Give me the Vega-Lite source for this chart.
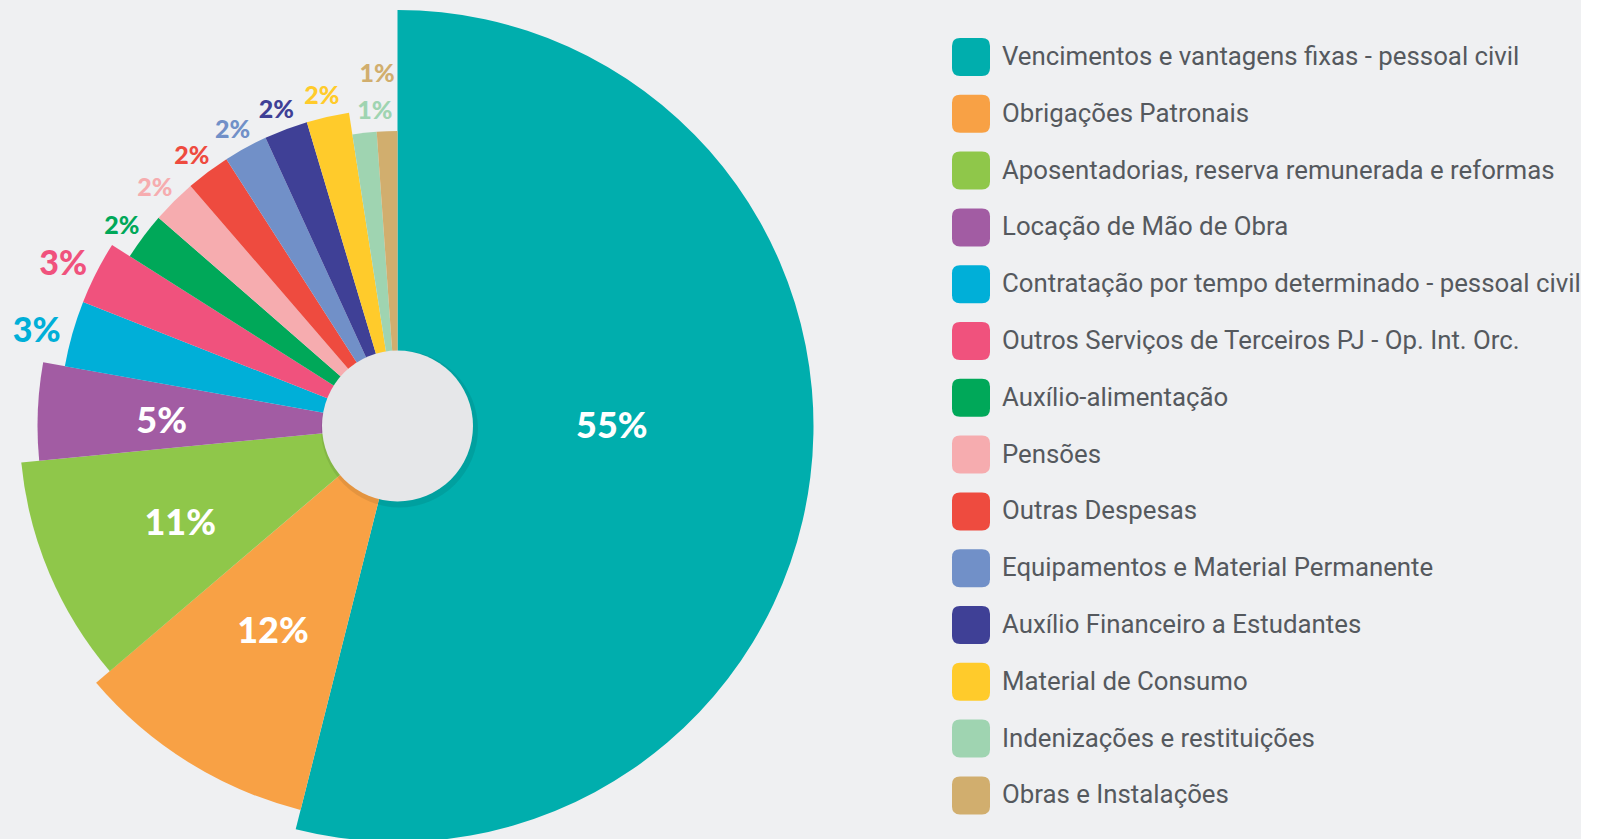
{
  "$schema": "https://vega.github.io/schema/vega-lite/v6.json",
  "width": 795,
  "height": 852,
  "padding": 0,
  "background": "#eff0f2",
  "config": {"view": {"stroke": null}},
  "data": {"values": [
    {"categoria": "Vencimentos e vantagens fixas - pessoal civil", "valor": 53.93, "pct": 0.55},
    {"categoria": "Obrigações Patronais", "valor": 9.83, "pct": 0.12},
    {"categoria": "Aposentadorias, reserva remunerada e reformas", "valor": 9.69, "pct": 0.11},
    {"categoria": "Locação de Mão de Obra", "valor": 4.375, "pct": 0.05},
    {"categoria": "Contratação por tempo determinado - pessoal civil", "valor": 3.15, "pct": 0.03},
    {"categoria": "Outros Serviços de Terceiros PJ - Op. Int. Orc.", "valor": 3.01, "pct": 0.03},
    {"categoria": "Auxílio-alimentação", "valor": 2.42, "pct": 0.02},
    {"categoria": "Pensões", "valor": 2.26, "pct": 0.02},
    {"categoria": "Outras Despesas", "valor": 2.25, "pct": 0.02},
    {"categoria": "Equipamentos e Material Permanente", "valor": 2.24, "pct": 0.02},
    {"categoria": "Auxílio Financeiro a Estudantes", "valor": 2.22, "pct": 0.02},
    {"categoria": "Material de Consumo", "valor": 2.17, "pct": 0.02},
    {"categoria": "Indenizações e restituições", "valor": 1.32, "pct": 0.01},
    {"categoria": "Obras e Instalações", "valor": 1.125, "pct": 0.01}
  ]},
  "layer": [
    {
      "transform": [{"stack": "valor", "groupby": [], "sort": [{"field": "valor", "order": "descending"}], "as": ["ini", "fim"]}],
      "mark": {"type": "arc", "stroke": null},
      "encoding": {
        "theta": {"field": "ini", "type": "quantitative"},
        "theta2": {"field": "fim"},
        "radius": {"field": "pct", "type": "quantitative", "scale": {"type": "linear", "zero": false, "domain": [0.01, 0.02, 0.03, 0.05, 0.11, 0.12, 0.55], "range": [295, 317, 338, 360, 378, 396, 416]}},
        "radius2": {"value": 0},
        "color": {
          "field": "categoria",
          "type": "nominal",
          "scale": {
            "domain": ["Vencimentos e vantagens fixas - pessoal civil", "Obrigações Patronais", "Aposentadorias, reserva remunerada e reformas", "Locação de Mão de Obra", "Contratação por tempo determinado - pessoal civil", "Outros Serviços de Terceiros PJ - Op. Int. Orc.", "Auxílio-alimentação", "Pensões", "Outras Despesas", "Equipamentos e Material Permanente", "Auxílio Financeiro a Estudantes", "Material de Consumo", "Indenizações e restituições", "Obras e Instalações"],
            "range": ["#00aead", "#f8a145", "#8fc74a", "#a25ca3", "#00afd8", "#f0527d", "#00a859", "#f6acaf", "#ee4b3f", "#7190c8", "#3f4096", "#ffcb2b", "#9fd4b1", "#d1ae6e"]
          },
          "legend": {
            "orient": "none",
            "legendX": 952,
            "legendY": 38,
            "title": null,
            "padding": 0,
            "symbolType": "M-1,-0.58 Q-1,-1 -0.58,-1 L0.58,-1 Q1,-1 1,-0.58 L1,0.58 Q1,1 0.58,1 L-0.58,1 Q-1,1 -1,0.58 Z",
            "symbolSize": 1444,
            "symbolStrokeWidth": 0,
            "labelFont": "Roboto",
            "labelFontSize": 25.8,
            "labelColor": "#55595e",
            "labelOffset": 12,
            "labelLimit": 800,
            "rowPadding": 18.8
          }
        }
      }
    },
    {
      "data": {"values": [{}]},
      "mark": {"type": "arc", "theta": 0, "theta2": 6.2832, "radius": 78.5, "fill": "#000000", "opacity": 0.08, "xOffset": 2, "yOffset": 3},
      "encoding": {}
    },
    {
      "data": {"values": [{}]},
      "mark": {"type": "arc", "theta": 0, "theta2": 6.2832, "radius": 75.5, "fill": "#e6e7e9"},
      "encoding": {}
    },
    {
      "mark": {"type": "text", "radius": 216, "dy": -26, "fill": "#ffffff", "font": "Lato", "fontWeight": 900, "fontSize": 36, "align": "center", "baseline": "middle"},
      "encoding": {
        "theta": {"field": "valor", "type": "quantitative", "stack": true},
        "order": {"field": "valor", "type": "quantitative", "sort": "descending"},
        "text": {"condition": {"test": "datum.pct > 0.5", "field": "pct", "type": "quantitative", "format": ".0%"}, "value": ""}
      }
    },
    {
      "mark": {"type": "text", "radius": 236, "dy": 6, "fill": "#ffffff", "font": "Lato", "fontWeight": 900, "fontSize": 36, "align": "center", "baseline": "middle"},
      "encoding": {
        "theta": {"field": "valor", "type": "quantitative", "stack": true},
        "order": {"field": "valor", "type": "quantitative", "sort": "descending"},
        "text": {"condition": {"test": "datum.pct > 0.04 && datum.pct < 0.5", "field": "pct", "type": "quantitative", "format": ".0%"}, "value": ""}
      }
    },
    {
      "mark": {"type": "text", "radius": 375, "dy": 9, "font": "Lato", "fontWeight": 900, "fontSize": 34, "align": "center", "baseline": "middle"},
      "encoding": {
        "theta": {"field": "valor", "type": "quantitative", "stack": true},
        "order": {"field": "valor", "type": "quantitative", "sort": "descending"},
        "color": {"field": "categoria", "type": "nominal"},
        "text": {"condition": {"test": "datum.pct == 0.03", "field": "pct", "type": "quantitative", "format": ".0%"}, "value": ""}
      }
    },
    {
      "mark": {"type": "text", "radius": 344, "dy": 6, "font": "Lato", "fontWeight": 900, "fontSize": 25, "align": "center", "baseline": "middle"},
      "encoding": {
        "theta": {"field": "valor", "type": "quantitative", "stack": true},
        "order": {"field": "valor", "type": "quantitative", "sort": "descending"},
        "color": {"field": "categoria", "type": "nominal"},
        "text": {"condition": {"test": "datum.pct == 0.02", "field": "pct", "type": "quantitative", "format": ".0%"}, "value": ""}
      }
    },
    {
      "mark": {"type": "text", "radius": 318, "dx": 13, "dy": 1, "font": "Lato", "fontWeight": 900, "fontSize": 25, "align": "center", "baseline": "middle"},
      "encoding": {
        "theta": {"field": "valor", "type": "quantitative", "stack": true},
        "order": {"field": "valor", "type": "quantitative", "sort": "descending"},
        "color": {"field": "categoria", "type": "nominal"},
        "text": {"condition": {"test": "datum.categoria == 'Indenizações e restituições'", "field": "pct", "type": "quantitative", "format": ".0%"}, "value": ""}
      }
    },
    {
      "mark": {"type": "text", "radius": 354, "dx": -8, "dy": 2, "font": "Lato", "fontWeight": 900, "fontSize": 25, "align": "center", "baseline": "middle"},
      "encoding": {
        "theta": {"field": "valor", "type": "quantitative", "stack": true},
        "order": {"field": "valor", "type": "quantitative", "sort": "descending"},
        "color": {"field": "categoria", "type": "nominal"},
        "text": {"condition": {"test": "datum.categoria == 'Obras e Instalações'", "field": "pct", "type": "quantitative", "format": ".0%"}, "value": ""}
      }
    }
  ]
}
